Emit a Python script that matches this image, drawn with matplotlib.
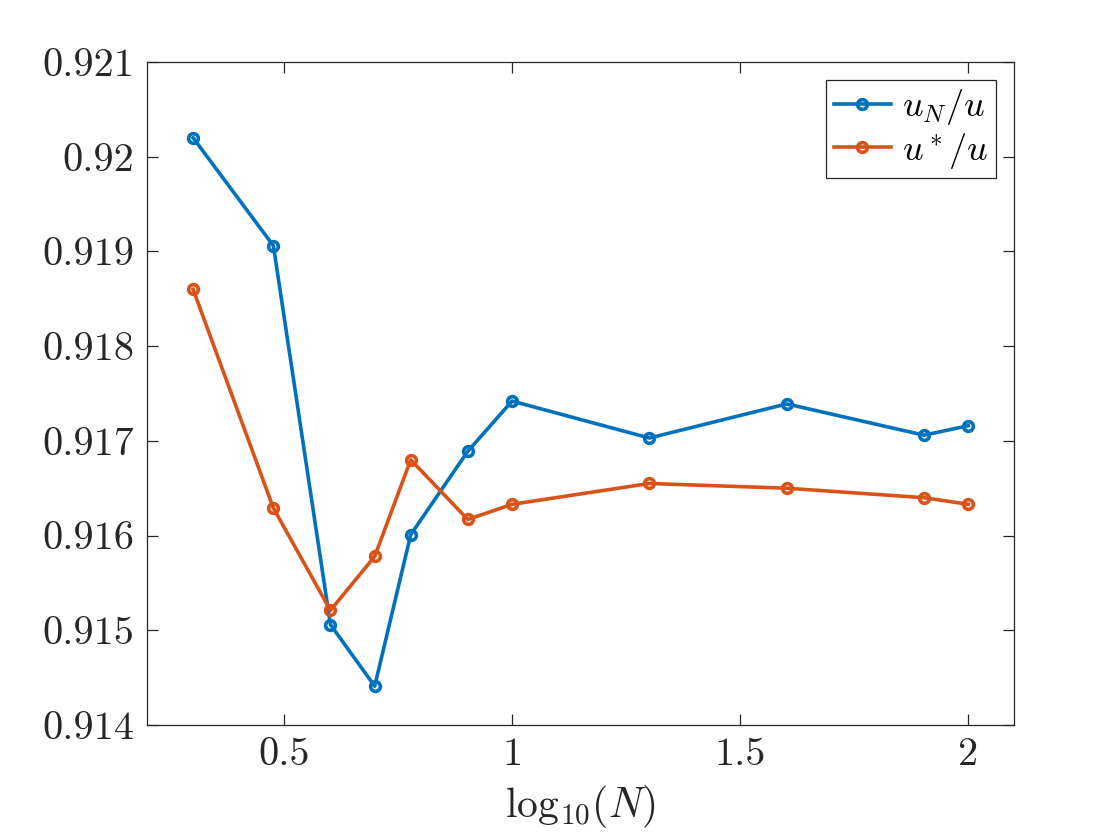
import matplotlib
matplotlib.use("Agg")
import matplotlib.pyplot as plt
from matplotlib.ticker import FuncFormatter

plt.rcParams["font.family"] = "cmr10"
plt.rcParams["mathtext.fontset"] = "cm"
plt.rcParams["axes.unicode_minus"] = False

# log10(N) for N = 2,3,4,5,6,8,10,20,40,80,100
log_n = [0.301, 0.477, 0.602, 0.699, 0.778, 0.903, 1.0, 1.301, 1.602, 1.903, 2.0]
u_n_ratio = [0.92020, 0.91906, 0.91506, 0.91441, 0.91601, 0.91689,
             0.91742, 0.91703, 0.91739, 0.91706, 0.91716]
u_star_ratio = [0.91860, 0.91629, 0.91521, 0.91578, 0.91680, 0.91617,
                0.91633, 0.91655, 0.91650, 0.91640, 0.91633]

blue = "#0072BD"
orange = "#D95319"
dark = "#262626"

fig = plt.figure(figsize=(11.2, 8.4), dpi=100)
ax = fig.add_axes([147 / 1120, 115 / 840, 867 / 1120, 663 / 840])

ax.plot(log_n, u_n_ratio, color=blue, lw=2.6, marker="o", ms=7,
        mfc="none", mew=2.6, label=r"$u_N/u$")
ax.plot(log_n, u_star_ratio, color=orange, lw=2.6, marker="o", ms=7,
        mfc="none", mew=2.6, label=r"$u^*/u$")

ax.set_xlim(0.2, 2.1)
ax.set_ylim(0.914, 0.921)
ax.set_xticks([0.5, 1, 1.5, 2])
ax.set_yticks([0.914, 0.915, 0.916, 0.917, 0.918, 0.919, 0.920, 0.921])
ax.yaxis.set_major_formatter(FuncFormatter(lambda v, p: f"{v:g}"))
ax.xaxis.set_major_formatter(FuncFormatter(lambda v, p: f"{v:g}"))

ax.tick_params(direction="in", length=8, width=0.9, colors=dark,
               labelsize=29, top=True, right=True, pad=9)
for s in ax.spines.values():
    s.set_color(dark)
    s.set_linewidth(0.9)

ax.set_xlabel(r"$\mathrm{log}_{10}(N)$", fontsize=30, color=dark, labelpad=7)

leg = ax.legend(loc="upper right", fontsize=26, frameon=True, fancybox=False,
                edgecolor=dark, framealpha=1, handlelength=1.6,
                handletextpad=0.3, borderpad=0.2, labelspacing=0.1,
                borderaxespad=0.5)
leg.get_frame().set_linewidth(0.9)

fig.savefig("out.png", dpi=100)
